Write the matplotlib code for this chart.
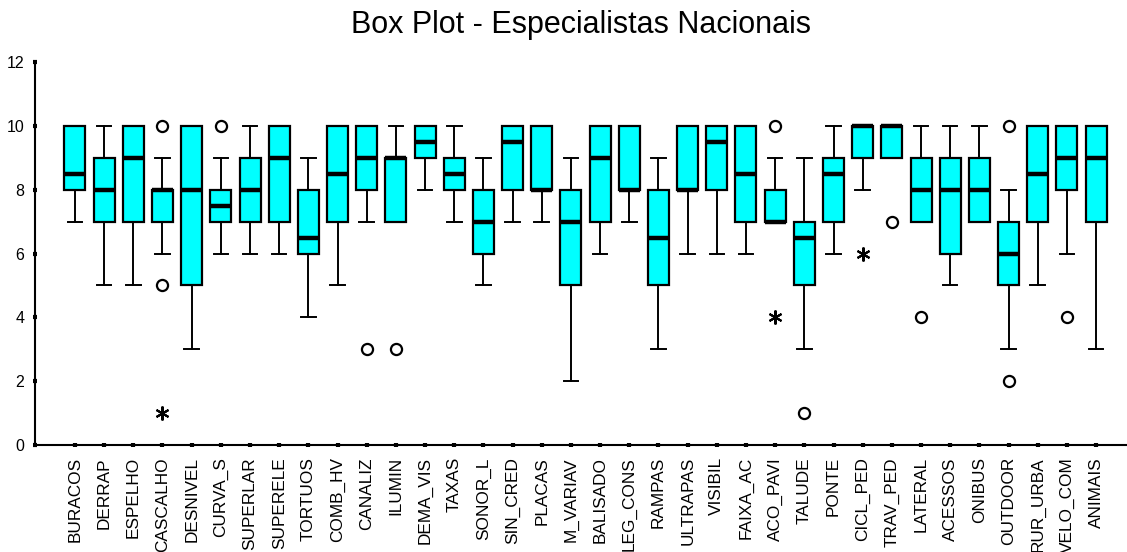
import matplotlib
matplotlib.use("Agg")
import matplotlib.pyplot as plt

plt.rcParams['font.family'] = ['Liberation Sans', 'DejaVu Sans']

categories = ["BURACOS", "DERRAP", "ESPELHO", "CASCALHO", "DESNIVEL", "CURVA_S",
              "SUPERLAR", "SUPERELE", "TORTUOS", "COMB_HV", "CANALIZ", "ILUMIN",
              "DEMA_VIS", "TAXAS", "SONOR_L", "SIN_CRED", "PLACAS", "M_VARIAV",
              "BALISADO", "LEG_CONS", "RAMPAS", "ULTRAPAS", "VISIBIL", "FAIXA_AC",
              "ACO_PAVI", "TALUDE", "PONTE", "CICL_PED", "TRAV_PED", "LATERAL",
              "ACESSOS", "ONIBUS", "OUTDOOR", "RUR_URBA", "VELO_COM", "ANIMAIS"]

q1 =       [8, 7, 7, 7, 5, 7, 7, 7, 6, 7, 8, 7, 9, 8, 6, 8, 8, 5, 7, 8, 5, 8, 8, 7,
            7, 5, 7, 9, 9, 7, 6, 7, 5, 7, 8, 7]
median =   [8.5, 8, 9, 8, 8, 7.5, 8, 9, 6.5, 8.5, 9, 9, 9.5, 8.5, 7, 9.5, 8, 7, 9, 8,
            6.5, 8, 9.5, 8.5, 7, 6.5, 8.5, 10, 10, 8, 8, 8, 6, 8.5, 9, 9]
q3 =       [10, 9, 10, 8, 10, 8, 9, 10, 8, 10, 10, 9, 10, 9, 8, 10, 10, 8, 10, 10, 8,
            10, 10, 10, 8, 7, 9, 10, 10, 9, 9, 9, 7, 10, 10, 10]
whis_lo =  [7, 5, 5, 6, 3, 6, 6, 6, 4, 5, 7, 7, 8, 7, 5, 7, 7, 2, 6, 7, 3, 6, 6, 6,
            7, 3, 6, 8, 9, 7, 5, 7, 3, 5, 6, 3]
whis_hi =  [10, 10, 10, 9, 10, 9, 10, 10, 9, 10, 10, 10, 10, 10, 9, 10, 10, 9, 10, 10,
            9, 10, 10, 10, 9, 9, 10, 10, 10, 10, 10, 10, 8, 10, 10, 10]
outliers = [[], [], [], [10, 5], [], [10], [], [], [], [], [3], [3], [], [], [], [],
            [], [], [], [], [], [], [], [], [10], [1], [], [], [7], [4], [], [],
            [10, 2], [], [4], []]
extremes = [[], [], [], [1], [], [], [], [], [], [], [], [], [], [], [], [], [], [],
            [], [], [], [], [], [], [4], [], [], [6], [], [], [], [], [], [], [], []]

yticks = [0, 2, 4, 6, 8, 10, 12]
title = "Box Plot - Especialistas Nacionais"

fig = plt.figure(figsize=(11.27, 5.52), dpi=100)
ax = fig.add_axes([35 / 1127, 1 - 445 / 552, 1 - 35 / 1127, (445 - 62) / 552])

positions = list(range(1, len(categories) + 1))
stats = []
for i, name in enumerate(categories):
    stats.append(dict(label=name, q1=q1[i], med=median[i], q3=q3[i],
                      whislo=whis_lo[i], whishi=whis_hi[i], fliers=[]))

ax.bxp(stats, positions=positions, widths=0.72, patch_artist=True,
       showfliers=False,
       boxprops=dict(facecolor="#00FFFF", edgecolor="black", linewidth=1.6),
       medianprops=dict(color="black", linewidth=3.2, solid_capstyle="butt"),
       whiskerprops=dict(color="black", linewidth=1.4),
       capprops=dict(color="black", linewidth=1.4),
       capwidths=0.5)

for p, vals in zip(positions, outliers):
    if vals:
        ax.plot([p] * len(vals), vals, linestyle="none", marker="o", markersize=8,
                markerfacecolor="white", markeredgecolor="black", markeredgewidth=1.6,
                clip_on=False, zorder=5)
for p, vals in zip(positions, extremes):
    if vals:
        ax.plot([p] * len(vals), vals, linestyle="none", marker=(6, 2, 0), markersize=10,
                markeredgecolor="black", markeredgewidth=1.5, clip_on=False, zorder=5)

ax.set_xlim(-0.37, 37.06)
ax.set_ylim(0, 12)
ax.set_yticks(yticks)
ax.set_yticklabels([str(v) for v in yticks], fontsize=11.5)
ax.set_xticks(positions)
ax.set_xticklabels(categories, rotation=90, fontsize=12.4)
ax.tick_params(axis="both", direction="inout", length=3.5, width=3, color="black")
ax.tick_params(axis="y", pad=6)
ax.tick_params(axis="x", pad=7)
for s in ["top", "right"]:
    ax.spines[s].set_visible(False)
ax.spines["left"].set_linewidth(1.5)
ax.spines["bottom"].set_linewidth(1.5)

fig.text((35 + 1127) / 2 / 1127, 1 - 33 / 552, title, fontsize=22,
         ha="center", va="baseline")

fig.savefig("out.png", dpi=100)
